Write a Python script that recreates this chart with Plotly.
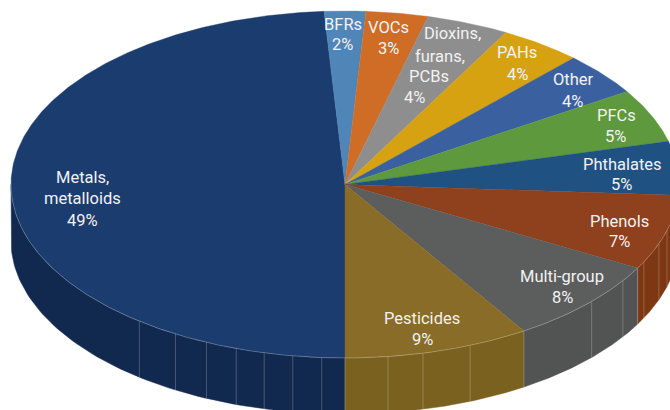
import numpy as np
import plotly.graph_objects as go

categories = ["Metals, metalloids", "BFRs", "VOCs", "Dioxins, furans, PCBs", "PAHs", "Other",
              "PFCs", "Phthalates", "Phenols", "Multi-group", "Pesticides"]
values = [49, 2, 3, 4, 4, 4, 5, 5, 7, 8, 9]
label_lines = [["Metals,", "metalloids"], ["BFRs"], ["VOCs"], ["Dioxins,", "furans,", "PCBs"], ["PAHs"], ["Other"],
               ["PFCs"], ["Phthalates"], ["Phenols"], ["Multi-group"], ["Pesticides"]]
top_colors = ["#1b3c6e", "#5085b8", "#cf6c26", "#8e8e8e", "#d6a211", "#3b60a0",
              "#5f993d", "#1f5182", "#8f401d", "#5c5e5e", "#886c27"]
side_colors = ["#12294f", "#3d6a96", "#a85520", "#737373", "#ad8410", "#2e4c80",
               "#4b7a30", "#173f66", "#7d3713", "#525453", "#7a611f"]
seam_degrees = [218, 210.5, 204.5, 199, 194, 189, 184, 180, 172.6, 166.5, 158, 147.6,
                132.4, 123.7, 118.8, 116.5, 110, 105.4]

label_pos = [
    [(82, 177), (82, 198), (82, 220)],
    [(343, 24), (342, 44)],
    [(388, 27), (388, 48)],
    [(452, 33), (440, 56), (429, 76), (414, 97)],
    [(517, 52), (517, 74)],
    [(573, 79), (572, 101)],
    [(616, 115), (615, 136)],
    [(622, 164), (621, 184)],
    [(619, 221), (619, 241)],
    [(562, 276), (562, 297)],
    [(422, 318), (422, 339)],
]

CX, CY, RX, RY, DEPTH = 345, 184.5, 334, 173.5, 56
FONT = "Roboto"


def ex(t):
    return CX + RX * np.sin(np.radians(t))


def ey(t):
    return CY - RY * np.cos(np.radians(t))


edges = 180 + 360 * np.concatenate([[0], np.cumsum(values)]) / np.sum(values)

fig = go.Figure()

# Side wall: only the part facing the viewer (90..270 degrees, mod 360)
for i, cat in enumerate(categories):
    a, b = edges[i], edges[i + 1]
    lo, hi = (a, min(b, 270)) if a < 270 else (a - 360, b - 360)
    lo, hi = max(lo, 90), min(hi, 270)
    if hi <= lo:
        continue
    t = np.linspace(lo, hi, 80)
    xs = np.concatenate([ex(t), ex(t[::-1])])
    ys = np.concatenate([ey(t), ey(t[::-1]) + DEPTH])
    fig.add_trace(go.Scatter(x=xs, y=ys, mode="lines", fill="toself", fillcolor=side_colors[i],
                             line=dict(color=side_colors[i], width=0.5), hoverinfo="skip", showlegend=False))

# Faint joints in the wall
for s in seam_degrees:
    fig.add_trace(go.Scatter(x=[ex(s), ex(s)], y=[ey(s), ey(s) + DEPTH], mode="lines",
                             line=dict(color="rgba(255,255,255,0.28)", width=0.8),
                             hoverinfo="skip", showlegend=False))

# Top face
for i, cat in enumerate(categories):
    t = np.linspace(edges[i], edges[i + 1], max(12, int(values[i] * 8)))
    xs = np.concatenate([[CX], ex(t), [CX]])
    ys = np.concatenate([[CY], ey(t), [CY]])
    fig.add_trace(go.Scatter(x=xs, y=ys, mode="lines", fill="toself", fillcolor=top_colors[i],
                             line=dict(color=top_colors[i], width=0.4), name=cat, hoverinfo="name",
                             showlegend=False))

# Light rim along the front edge
t = np.linspace(90, 270, 300)
fig.add_trace(go.Scatter(x=ex(t), y=ey(t), mode="lines", line=dict(color="rgba(255,255,255,0.35)", width=0.7),
                         hoverinfo="skip", showlegend=False))

annotations = []
for i, lines in enumerate(label_lines):
    for text, (x, y) in zip(lines + [f"{values[i]}%"], label_pos[i]):
        annotations.append(dict(x=x, y=y, xref="x", yref="y", text=text, showarrow=False,
                                xanchor="center", yanchor="middle",
                                font=dict(family=FONT, size=16.5, color="#f2f2f2")))

fig.update_layout(
    width=670, height=410, margin=dict(l=0, r=0, t=0, b=0),
    paper_bgcolor="white", plot_bgcolor="white", annotations=annotations,
    xaxis=dict(range=[0, 670], visible=False, fixedrange=True),
    yaxis=dict(range=[410, 0], visible=False, fixedrange=True),
)
fig.write_html("out.html", config={"displayModeBar": False},
               post_script="document.body.style.margin='0';document.body.style.overflow='hidden';")
